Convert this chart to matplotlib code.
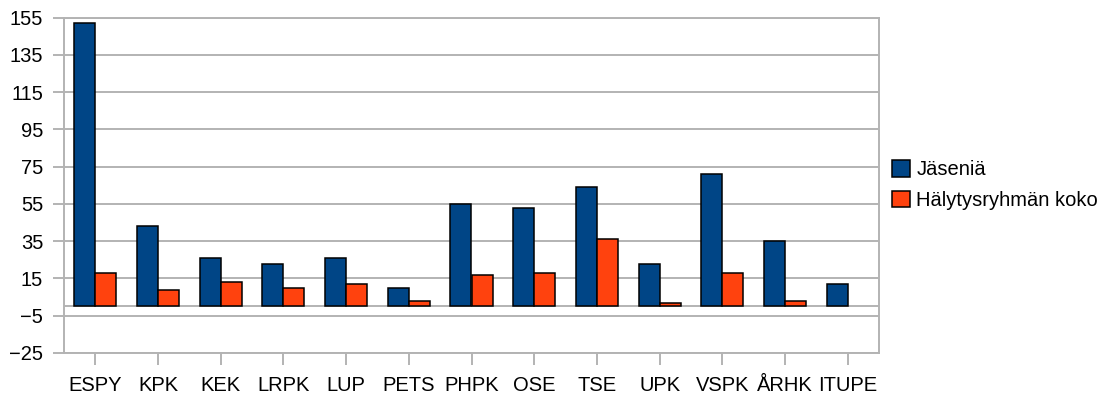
import matplotlib.pyplot as plt
import numpy as np

plt.rcParams['font.family'] = ['Liberation Sans', 'DejaVu Sans']

# categories and values
categories = ['ESPY', 'KPK', 'KEK', 'LRPK', 'LUP', 'PETS', 'PHPK',
              'OSE', 'TSE', 'UPK', 'VSPK', 'ÅRHK', 'ITUPE']
jasenia = [152, 43, 26, 23, 26, 10, 55, 53, 64, 23, 71, 35, 12]
halytysryhma = [18, 9, 13, 10, 12, 3, 17, 18, 36, 2, 18, 3, 0]
y_ticks = list(range(-25, 156, 20))

grid_col = '#b3b3b3'
fs = 14.5

fig = plt.figure(figsize=(11.14, 4), dpi=100)
ax = fig.add_axes([64 / 1114, 47 / 400, 815 / 1114, 335.5 / 400])

x = np.arange(len(categories))
w = 0.335
ax.bar(x - w / 2, jasenia, w, color='#004586', edgecolor='black',
       linewidth=1.1, label='Jäseniä', zorder=3)
red = ax.bar(x + w / 2, halytysryhma, w, color='#ff420e', edgecolor='black',
             linewidth=1.1, label='Hälytysryhmän koko', zorder=3)
# zero-height bars are not drawn in the original
for b, v in zip(red, halytysryhma):
    if v == 0:
        b.set_visible(False)

ax.set_xlim(-0.5, len(categories) - 0.5)
ax.set_ylim(-25, 155)
ax.set_yticks(y_ticks)
ax.set_xticks(x)
ax.set_xticklabels(categories)

ax.yaxis.grid(True, color=grid_col, linewidth=1.4, zorder=0)
ax.axhline(0, color=grid_col, linewidth=1.4, zorder=1)
for s in ax.spines.values():
    s.set_color(grid_col)
    s.set_linewidth(1.4)

ax.tick_params(axis='y', length=8, width=1.4, color=grid_col, pad=7,
               labelsize=fs)
ax.tick_params(axis='x', length=8.6, width=1.4, color=grid_col, pad=8,
               labelsize=fs)

fig.legend(loc='center left', bbox_to_anchor=(892 / 1114, 1 - 185 / 400),
           frameon=False, fontsize=fs, handlelength=0.9, handleheight=0.9,
           handletextpad=0.3, labelspacing=0.55, borderaxespad=0,
           borderpad=0)

fig.savefig('out.png', dpi=100)
